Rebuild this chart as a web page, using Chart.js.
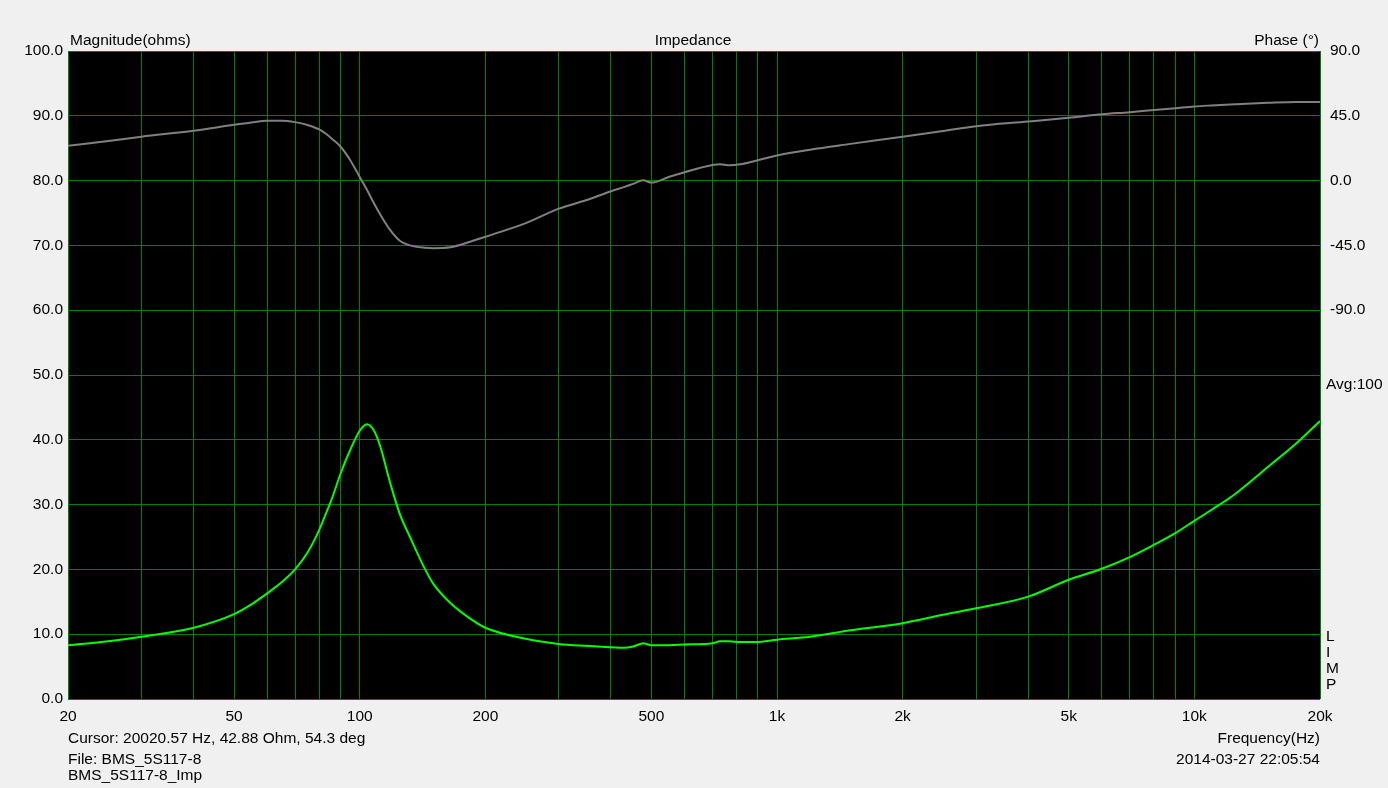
<!DOCTYPE html>
<html>
<head>
<meta charset="utf-8">
<script src="https://cdn.jsdelivr.net/npm/chart.js@4/dist/chart.umd.min.js"></script>
<style>
  html, body { margin: 0; padding: 0; background: #f0f0f0; }
  #wrap { position: relative; width: 1388px; height: 788px; }
  canvas { position: absolute; left: 0; top: 0; }
  .t { position: absolute; font-family: "Liberation Sans", Arial, sans-serif; font-size: 15.5px; color: #000; white-space: nowrap; line-height: 16px; }
</style>
</head>
<body>
<div id="wrap">
  <canvas id="c" width="1388" height="788"></canvas>
  <div class="t" style="left:70px; top:32px;">Magnitude(ohms)</div>
  <div class="t" style="left:693px; top:32px; transform:translateX(-50%);">Impedance</div>
  <div class="t" style="right:69px; top:32px;">Phase (°)</div>
  <div class="t" style="left:1326px; top:376px;">Avg:100</div>
  <div class="t" style="left:1326px; top:628px;">L</div>
  <div class="t" style="left:1326px; top:644px;">I</div>
  <div class="t" style="left:1326px; top:660px;">M</div>
  <div class="t" style="left:1326px; top:676px;">P</div>
  <div class="t" style="left:68px; top:730px;">Cursor: 20020.57 Hz, 42.88 Ohm, 54.3 deg</div>
  <div class="t" style="left:68px; top:751px;">File: BMS_5S117-8</div>
  <div class="t" style="left:68px; top:767px;">BMS_5S117-8_Imp</div>
  <div class="t" style="right:68px; top:730px;">Frequency(Hz)</div>
  <div class="t" style="right:68px; top:751px;">2014-03-27 22:05:54</div>
</div>
<script>
// Frequencies (Hz)
const freqs = [20, 25, 30, 40, 50, 55, 60, 65, 70, 75, 80, 83, 86, 90, 95, 100, 104, 108, 112, 118, 125, 132, 143, 150, 165, 184, 200, 250, 300, 350, 400, 430, 452, 478, 500, 550, 600, 700, 730, 770, 816, 890, 1000, 1200, 1500, 2000, 2500, 3000, 4000, 5000, 6000, 7000, 8000, 9000, 10000, 11000, 12500, 15000, 17500, 20000];
// Impedance magnitude (ohms)
const magnitude = [8.3, 8.9, 9.6, 11.0, 13.1, 14.6, 16.3, 18.0, 20.0, 22.6, 26.1, 28.6, 31.1, 34.8, 38.5, 41.4, 42.4, 41.5, 39.0, 33.6, 28.4, 25.0, 20.2, 17.8, 14.8, 12.4, 11.0, 9.3, 8.5, 8.2, 8.0, 7.9, 8.1, 8.6, 8.3, 8.3, 8.4, 8.6, 8.9, 8.9, 8.8, 8.8, 9.15, 9.6, 10.6, 11.7, 13.0, 14.0, 15.8, 18.4, 20.1, 21.9, 23.8, 25.6, 27.5, 29.2, 31.6, 35.8, 39.4, 42.9];
// Phase (degrees)
const phase = [24.2, 27.5, 30.5, 34.6, 38.8, 40.4, 41.5, 41.6, 40.6, 38.6, 35.6, 32.5, 28.8, 23.5, 14.0, 2.5, -6.2, -15.4, -23.5, -33.9, -42.0, -45.0, -46.6, -46.9, -46.3, -42.5, -39.0, -29.5, -19.5, -13.5, -7.4, -4.5, -2.3, 0.2, -1.4, 2.5, 5.8, 10.8, 11.4, 10.6, 11.3, 13.8, 17.5, 21.5, 25.5, 30.5, 34.5, 37.8, 41.0, 43.6, 46.0, 47.5, 49.0, 50.3, 51.5, 52.2, 53.0, 54.0, 54.6, 54.5];
// Axis ticks
const xGridTicks = [20, 30, 40, 50, 60, 70, 80, 90, 100, 200, 300, 400, 500, 600, 700, 800, 900, 1000, 2000, 3000, 4000, 5000, 6000, 7000, 8000, 9000, 10000, 20000];
const xLabelTicks = [20, 50, 100, 200, 500, 1000, 2000, 5000, 10000, 20000];
const xLabelText = ['20', '50', '100', '200', '500', '1k', '2k', '5k', '10k', '20k'];
const phaseTicks = [-360, -315, -270, -225, -180, -135, -90, -45, 0, 45, 90];
const phaseLabelTicks = [90, 45, 0, -45, -90];

const FONT = { family: '"Liberation Sans", Arial, sans-serif', size: 15.5 };
const GRID = 'rgb(0,128,0)';

const bgPlugin = {
  id: 'bg',
  beforeDraw(chart) {
    const a = chart.chartArea, ctx = chart.ctx;
    ctx.save();
    ctx.fillStyle = '#000';
    ctx.fillRect(a.left, a.top, a.right - a.left, a.bottom - a.top);
    ctx.restore();
  }
};

new Chart(document.getElementById('c'), {
  type: 'line',
  plugins: [bgPlugin],
  data: {
    datasets: [
      {
        label: 'Phase',
        data: freqs.map((f, i) => ({ x: f, y: phase[i] })),
        yAxisID: 'y2',
        borderColor: 'rgb(128,128,128)',
        borderWidth: 2,
        pointRadius: 0,
        cubicInterpolationMode: 'monotone'
      },
      {
        label: 'Magnitude',
        data: freqs.map((f, i) => ({ x: f, y: magnitude[i] })),
        yAxisID: 'y',
        borderColor: 'rgb(0,255,0)',
        borderWidth: 2,
        pointRadius: 0,
        cubicInterpolationMode: 'monotone'
      }
    ]
  },
  options: {
    responsive: false,
    animation: false,
    layout: { padding: { top: 51, left: 0, right: 0, bottom: 0 } },
    plugins: { legend: { display: false }, tooltip: { enabled: false } },
    scales: {
      x: {
        type: 'logarithmic',
        min: 20, max: 20000,
        afterBuildTicks(scale) { scale.ticks = xGridTicks.map(v => ({ value: v })); },
        afterFit(scale) { scale.height = 89; },
        grid: { color: GRID, lineWidth: 1, drawTicks: false },
        border: { display: false },
        ticks: {
          autoSkip: false, maxRotation: 0, padding: 8, color: '#000', font: FONT,
          callback(v) { const i = xLabelTicks.indexOf(v); return i >= 0 ? xLabelText[i] : ''; }
        }
      },
      y: {
        position: 'left',
        min: 0, max: 100,
        afterFit(scale) { scale.width = 68; },
        grid: { color: GRID, lineWidth: 1, drawTicks: false },
        border: { display: false },
        ticks: { stepSize: 10, padding: 5, color: '#000', font: FONT, callback: v => v.toFixed(1) }
      },
      y2: {
        position: 'right',
        min: -360, max: 90,
        afterBuildTicks(scale) { scale.ticks = phaseTicks.map(v => ({ value: v })); },
        afterFit(scale) { scale.width = 68; },
        grid: { display: false, drawTicks: false },
        border: { display: false },
        ticks: {
          autoSkip: false, padding: 10, color: '#000', font: FONT,
          callback: v => phaseLabelTicks.includes(v) ? v.toFixed(1) : ''
        }
      }
    }
  }
});
</script>
</body>
</html>
